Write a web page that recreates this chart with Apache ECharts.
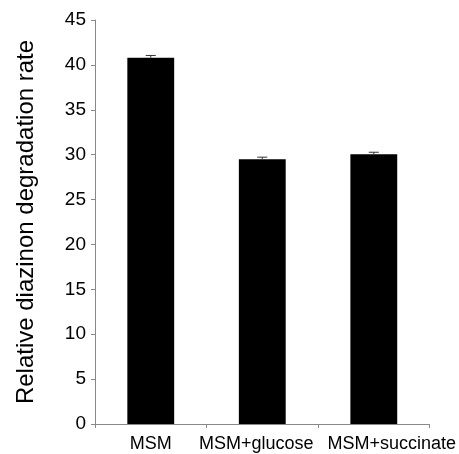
<!DOCTYPE html>
<html><head><meta charset="utf-8">
<script src="https://cdn.jsdelivr.net/npm/echarts@6/dist/echarts.min.js"></script>
<style>html,body{margin:0;padding:0;background:#fff}#c{width:459px;height:454px}</style>
</head><body><div id="c"></div>
<script>
const categories = ['MSM', 'MSM+glucose', 'MSM+succinate'];
const values = [40.8, 29.5, 30.05];
const errors = [0.25, 0.22, 0.22];
const yTicks = [0, 5, 10, 15, 20, 25, 30, 35, 40, 45];

const chart = echarts.init(document.getElementById('c'));
const font = 'Liberation Sans, Arial, sans-serif';
chart.setOption({
  animation: false,
  grid: { left: 95, right: 29, top: 20, bottom: 30 },
  xAxis: {
    type: 'category', data: categories,
    axisLine: { lineStyle: { color: '#888', width: 1 } },
    axisTick: { show: true, length: 4, lineStyle: { color: '#888' } },
    axisLabel: {
      color: '#000', fontSize: 18, fontFamily: font, margin: 11, interval: 0,
      formatter: (v, i) => '{c' + i + '|' + v + '}',
      rich: {
        c0: { fontSize: 18, fontFamily: font, color: '#000' },
        c1: { fontSize: 18, fontFamily: font, color: '#000', padding: [0, 12, 0, 0] },
        c2: { fontSize: 18, fontFamily: font, color: '#000', padding: [0, 0, 0, 36] }
      }
    }
  },
  yAxis: {
    type: 'value', min: yTicks[0], max: yTicks[yTicks.length - 1], interval: 5,
    name: 'Relative diazinon degradation rate', nameLocation: 'middle', nameGap: 57,
    nameTextStyle: { fontSize: 24, fontFamily: font, color: '#000', padding: [0, 0, 0, 0], align: 'center' },
    axisLine: { show: true, lineStyle: { color: '#888', width: 1 } },
    axisTick: { show: true, length: 4, lineStyle: { color: '#888' } },
    axisLabel: { color: '#000', fontSize: 19, fontFamily: font, margin: 9 },
    splitLine: { show: false }
  },
  series: [
    { type: 'bar', data: values, barWidth: '42%', itemStyle: { color: '#000' } },
    {
      type: 'custom',
      data: values.map((v, i) => [i, v - errors[i], v + errors[i]]),
      renderItem: function (params, api) {
        const x = api.value(0);
        const hi = api.coord([x, api.value(2)]);
        const mid = api.coord([x, (api.value(1) + api.value(2)) / 2]);
        const hw = 5;
        return {
          type: 'group',
          children: [
            { type: 'line', shape: { x1: hi[0], y1: hi[1], x2: mid[0], y2: mid[1] }, style: { stroke: '#333', lineWidth: 1 } },
            { type: 'line', shape: { x1: hi[0] - hw, y1: hi[1], x2: hi[0] + hw, y2: hi[1] }, style: { stroke: '#333', lineWidth: 1 } }
          ]
        };
      },
      z: 10
    }
  ]
});
</script></body></html>
